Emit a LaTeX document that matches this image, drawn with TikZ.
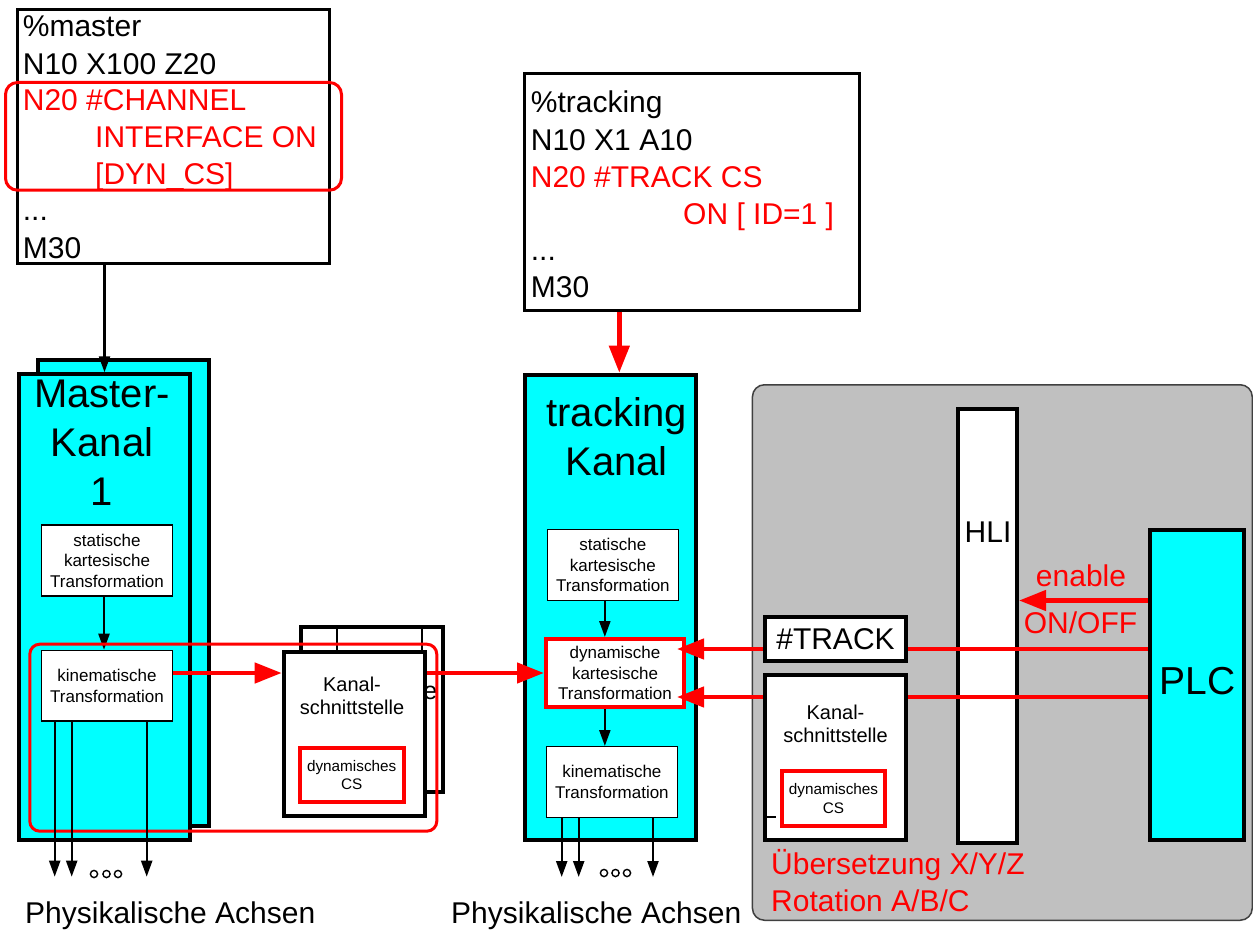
\documentclass[tikz,border=0pt]{standalone}
\usepackage{fontspec}
\setmainfont{Liberation Sans}
\usetikzlibrary{arrows.meta,calc}
\definecolor{cncyan}{RGB}{0,255,255}
\definecolor{cnred}{RGB}{255,0,0}
\definecolor{cngray}{RGB}{192,192,192}
\newcommand\fbig{\fontsize{30pt}{36.8pt}\selectfont}
\newcommand\ftitle{\fontsize{40pt}{49pt}\selectfont}
\newcommand\fplc{\fontsize{39pt}{46pt}\selectfont}
\newcommand\fsub{\fontsize{17pt}{20.5pt}\selectfont}
\newcommand\fkanal{\fontsize{20pt}{23pt}\selectfont}
\newcommand\fkanalbig{\fontsize{25pt}{30pt}\selectfont}
\newcommand\fcs{\fontsize{15.3pt}{18.5pt}\selectfont}
\begin{document}
\begin{tikzpicture}[x=1pt,y=-1pt,
  plainbox/.style={draw, fill=white, inner sep=0pt, anchor=north west, align=center},
  progbox/.style={plainbox, line width=3pt},
  chanbox/.style={plainbox, fill=cncyan, line width=4pt},
  thickbox/.style={plainbox, line width=4pt},
  subbox/.style={plainbox, line width=1.3pt, font=\fsub},
  redbox/.style={plainbox, draw=cnred, line width=4pt},
  redframe/.style={draw=cnred, line width=3pt, rounded corners=#1, inner sep=0pt, anchor=north west},
  txt/.style={inner sep=0pt, anchor=base west, font=\fbig},
  flow/.style={line width=2.2pt, -{Triangle[length=16pt,width=11pt]}},
  redflow/.style={cnred, line width=4.5pt, -{Triangle[length=27pt,width=20pt]}},
  dot/.style={line width=1.4pt}
]
\useasboundingbox (0,0) rectangle (1253,931);

% gray area holding HLI and PLC
\node[draw=black!75, fill=cngray, line width=1.5pt, rounded corners=12pt, inner sep=0pt,
      anchor=north west, minimum width=499.8pt, minimum height=535.5pt] (hmi) at (751.7,384) {};

% master part program
\node[progbox, minimum width=311.7pt, minimum height=253.7pt] (mprog) at (16,8.3) {};
\node[txt] (mp1) at (22.7,37) {\%master};
\node[txt] (mp2) at (22.7,75) {N10 X100 Z20};
\node[txt, text=cnred] (mp3) at (22.7,110.7) {N20 \#CHANNEL};
\node[txt, text=cnred] (mp4) at (95,148) {INTERFACE ON};
\node[txt, text=cnred] (mp5) at (95,184) {[DYN\_CS]};
\node[txt] (mp6) at (22.7,220) {...};
\node[txt] (mp7) at (22.7,258) {M30};
\node[redframe=12pt, minimum width=336pt, minimum height=107.7pt] (mhl) at (4,81) {};

% tracking part program
\node[progbox, minimum width=335pt, minimum height=237pt] (tprog) at (522.7,71.7) {};
\node[txt] (tp1) at (530.7,113) {\%tracking};
\node[txt] (tp2) at (530.7,150.7) {N10 X1 A10};
\node[txt, text=cnred] (tp3) at (530.7,187.7) {N20 \#TRACK CS};
\node[txt, text=cnred] (tp4) at (683,224) {ON [ ID=1 ]};
\node[txt] (tp5) at (530.7,260) {...};
\node[txt] (tp6) at (530.7,297) {M30};

% master channel (stacked)
\node[chanbox, minimum width=171.3pt, minimum height=466pt] (mback) at (35.7,358) {};
\node[chanbox, minimum width=171.6pt, minimum height=465.4pt] (mchan) at (16.7,372.3) {};
\node[font=\ftitle, align=center, inner sep=0pt] (mtitle) at (102,442.5) {Master-\\Kanal\\1};
\node[subbox, minimum width=131.3pt, minimum height=71.1pt] (ms) at (40.7,524.3) {statische\\kartesische\\Transformation};
\node[subbox, minimum width=131.3pt, minimum height=70.7pt] (mk) at (40.7,649.7) {kinematische\\Transformation};
\draw[flow] (mchan.north |- mprog.south) -- (mchan.north);
\draw[flow] ($(ms.south)+(-3,0)$) -- ($(mk.north)+(-3,0)$);

% channel interface (stacked); only the tail of the rear label shows
\node[thickbox, minimum width=141.7pt, minimum height=165pt] (kback) at (299.3,625) {};
\node[font=\fkanalbig, inner sep=0pt, anchor=base east] (kbtext) at (437.5,699.5) {e};
\draw[line width=2pt] ($(kback.north west)+(37.4,0)$) -- ++(0,25);
\draw[line width=2pt] ($(kback.north west)+(122.4,0)$) -- ++(0,25);
\node[redframe=10pt, minimum width=407pt, minimum height=187pt] (mgroup) at (28.3,642.7) {};
\node[thickbox, minimum width=141pt, minimum height=164.3pt] (kfront) at (281.7,650) {};
\node[font=\fkanal, align=center, inner sep=0pt] (kftext) at (352,696.2) {Kanal-\\schnittstelle};
\node[redbox, font=\fcs, minimum width=104pt, minimum height=54.3pt] (kcs) at (297.7,745.7) {dynamisches\\CS};

% physical axes of the master channel
\foreach \dx in {14,31,106}
  \draw[flow] ($(mk.south west)+(\dx,0)$) -- ++(0,155);
\foreach \cx in {94,106.5,118}
  \draw[dot] (\cx,874) circle[radius=3.6pt];
\node[txt] (pa1) at (25,923) {Physikalische Achsen};

% tracking channel
\node[chanbox, minimum width=171.3pt, minimum height=465pt] (tchan) at (522.7,372.7) {};
\node[font=\ftitle, align=center, inner sep=0pt] (ttitle) at (616.5,437) {tracking\\Kanal};
\node[subbox, minimum width=131pt, minimum height=70.7pt] (ts) at (546.7,529) {statische\\kartesische\\Transformation};
\node[redbox, font=\fsub, minimum width=138pt, minimum height=68pt] (dk) at (544,637) {dynamische\\kartesische\\Transformation};
\node[subbox, minimum width=131pt, minimum height=70.7pt] (tk) at (545.7,746) {kinematische\\Transformation};
\coordinate (tx) at ($(ts.south)+(-8,0)$);
\draw[flow] (tx) -- (tx |- dk.north);
\draw[flow] (tx |- dk.south) -- (tx |- tk.north);
\foreach \dx in {16,33,107.3}
  \draw[flow] ($(tk.south west)+(\dx,0)$) -- ++(0,59);
\foreach \cx in {604,615.5,627}
  \draw[dot] (\cx,873) circle[radius=3.6pt];
\node[txt] (pa2) at (451,923) {Physikalische Achsen};

% data flow into the dynamic transformation
\coordinate (tpo) at ($(tprog.south west)+(96.6,0)$);
\draw[redflow] (tpo) -- (tpo |- tchan.north);
\draw[redflow] (mk.east |- dk.west) -- (kfront.west |- dk.west);
\draw[redflow] (kfront.east |- dk.west) -- (dk.west);

% HLI and PLC
\node[thickbox, minimum width=59pt, minimum height=434pt] (hli) at (956,407) {};
\node[font=\fbig, inner sep=0pt] (hlitext) at (988,532) {HLI};
\node[chanbox, minimum width=94pt, minimum height=310pt] (plc) at (1148,528) {};
\node[font=\fplc, inner sep=0pt] (plctext) at (1197.5,681) {PLC};
\coordinate (pa) at ($(plc.north west)+(0,72.5)$);
\coordinate (pb) at ($(plc.north west)+(0,121)$);
\coordinate (pc) at ($(plc.north west)+(0,169)$);
\draw[redflow] (pa) -- (hli.east |- pa);
\node[font=\fbig, text=cnred, inner sep=0pt] (en) at (1081,576) {enable};
\node[font=\fbig, text=cnred, inner sep=0pt] (onoff) at (1080.5,623) {ON/OFF};
\draw[redflow, shorten >=-9pt] (pb) -- (dk.east |- pb);
\draw[redflow, shorten >=-9pt] (pc) -- (dk.east |- pc);

% interface blocks in front of the signal lines
\node[thickbox, font=\fbig, minimum width=141pt, minimum height=44.4pt] (trk) at (763,614.6) {\#TRACK};
\node[thickbox, minimum width=141pt, minimum height=165pt] (kright) at (763,673) {};
\node[font=\fkanal, align=center, inner sep=0pt] (krtext) at (835.5,724.1) {Kanal-\\schnittstelle};
\node[redbox, font=\fcs, minimum width=103pt, minimum height=55pt] (kcsr) at (780,769) {dynamisches\\CS};
\draw[line width=2pt] ($(kright.south west)+(3,-25)$) -- ++(10,0);
\node[txt, text=cnred] (ue1) at (771,874) {Übersetzung X/Y/Z};
\node[txt, text=cnred] (ue2) at (771,911) {Rotation A/B/C};
\end{tikzpicture}
\end{document}
